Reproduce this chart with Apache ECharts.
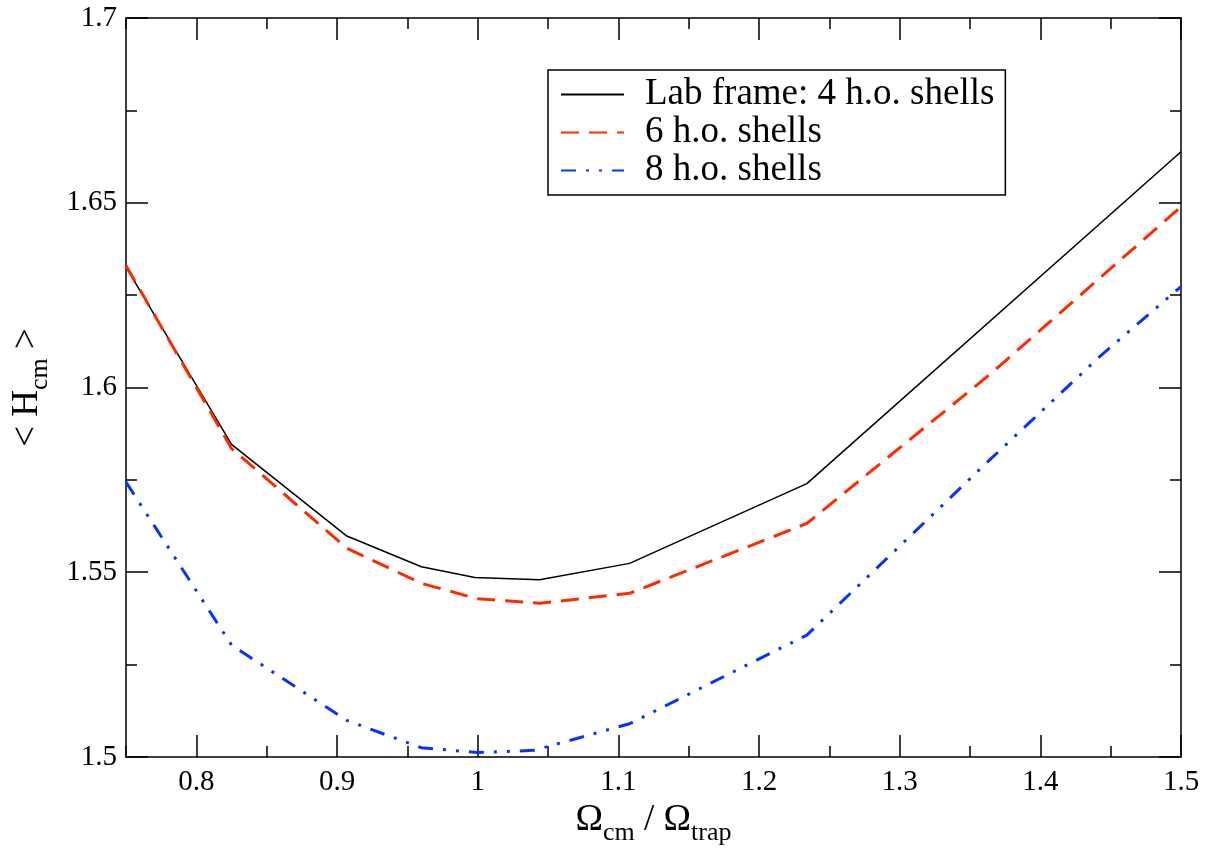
<!DOCTYPE html>
<html>
<head>
<meta charset="utf-8">
<script src="https://cdn.jsdelivr.net/npm/echarts@6/dist/echarts.min.js"></script>
<style>
html,body{margin:0;padding:0;background:#fff;}
#chart{width:1205px;height:851px;}
</style>
</head>
<body>
<div id="chart"></div>
<script>
// Data
const seriesNames = ['Lab frame: 4 h.o. shells', '6 h.o. shells', '8 h.o. shells'];
const x4 = [0.75, 0.825, 0.907, 0.96, 0.998, 1.044, 1.108, 1.234, 1.5];
const y4 = [1.6326, 1.5846, 1.5598, 1.5515, 1.5486, 1.548, 1.5524, 1.574, 1.6638];
const x6 = [0.75, 0.825, 0.907, 0.96, 1.0, 1.044, 1.108, 1.234, 1.364, 1.5];
const y6 = [1.633, 1.5835, 1.5565, 1.547, 1.5428, 1.5416, 1.5443, 1.5632, 1.6035, 1.6489];
const x8 = [0.75, 0.825, 0.907, 0.96, 1.0, 1.04, 1.108, 1.234, 1.364, 1.442, 1.5];
const y8 = [1.5744, 1.5303, 1.5099, 1.5025, 1.5012, 1.5018, 1.509, 1.533, 1.5804, 1.6083, 1.6273];
const xMajorTicks = [0.8, 0.9, 1.0, 1.1, 1.2, 1.3, 1.4, 1.5];
const xMinorTicks = [0.75, 0.85, 0.95, 1.05, 1.15, 1.25, 1.35, 1.45];
const xMin = 0.75, xMax = 1.5, yMin = 1.5, yMax = 1.7, yStep = 0.05;

const pairs = (xs, ys) => xs.map((x, i) => [x, ys[i]]);
const FONT = '"Liberation Serif", "Times New Roman", serif';
const lineCol = '#000';
const fmt = v => String(+(+v).toFixed(2));

function xAx(pos, ticks, len, showLine, showLabel, extra) {
  return Object.assign({
    type: 'value', position: pos, min: xMin, max: xMax,
    axisLine: {show: showLine, lineStyle: {color: lineCol, width: 1.5}},
    axisTick: {show: true, inside: true, length: len, customValues: ticks, lineStyle: {color: lineCol, width: 1.5}},
    axisLabel: {show: showLabel, customValues: ticks, formatter: fmt, fontFamily: FONT, fontSize: 29, color: '#000', margin: 11},
    splitLine: {show: false}
  }, extra || {});
}
function yAx(pos, showLabel, extra) {
  return Object.assign({
    type: 'value', position: pos, min: yMin, max: yMax, interval: yStep,
    axisLine: {show: true, lineStyle: {color: lineCol, width: 1.5}},
    axisTick: {show: true, inside: true, length: 22, lineStyle: {color: lineCol, width: 1.5}},
    minorTick: {show: true, splitNumber: 2, length: 11, lineStyle: {color: lineCol, width: 1.5}},
    axisLabel: {show: showLabel, formatter: fmt, fontFamily: FONT, fontSize: 29, color: '#000', margin: 9},
    splitLine: {show: false}, minorSplitLine: {show: false}
  }, extra || {});
}

const chart = echarts.init(document.getElementById('chart'), null, {renderer: 'canvas'});
chart.setOption({
  backgroundColor: '#fff',
  animation: false,
  grid: {left: 126, right: 24, top: 18, bottom: 94, containLabel: false, outerBoundsMode: 'none'},
  legend: {
    orient: 'vertical', left: 548, top: 70,
    data: seriesNames,
    itemWidth: 63, itemHeight: 20, itemGap: 1,
    padding: [6, 11, 6, 12],
    borderColor: '#000', borderWidth: 1.5,
    itemStyle: {opacity: 0},
    textStyle: {fontFamily: FONT, fontSize: 37, color: '#000', lineHeight: 35, padding: [0, 0, 0, 16]}
  },
  xAxis: [
    xAx('bottom', xMajorTicks, 22, true, true, {
      name: '{o|Ω}{s|cm}{o| / Ω}{s|trap}',
      nameLocation: 'middle', nameGap: 36,
      nameTextStyle: {
        fontFamily: FONT, color: '#000',
        rich: {
          o: {fontFamily: FONT, fontSize: 37, color: '#000'},
          s: {fontFamily: FONT, fontSize: 26, color: '#000', padding: [26, 0, 0, 0]}
        }
      }
    }),
    xAx('bottom', xMinorTicks, 11, false, false),
    xAx('top', xMajorTicks, 22, true, false),
    xAx('top', xMinorTicks, 11, false, false)
  ],
  yAxis: [
    yAx('left', true, {
      name: '{o|< H}{s|cm}{o| >}',
      nameLocation: 'middle', nameGap: 73, nameRotate: 90,
      nameTextStyle: {
        fontFamily: FONT, color: '#000',
        rich: {
          o: {fontFamily: FONT, fontSize: 37, color: '#000'},
          s: {fontFamily: FONT, fontSize: 26, color: '#000', padding: [26, 0, 0, 0]}
        }
      }
    }),
    yAx('right', false)
  ],
  series: [
    {name: seriesNames[0], type: 'line', data: pairs(x4, y4), symbol: 'none', smooth: false,
     lineStyle: {color: '#000', width: 1.5}, itemStyle: {color: '#000'}},
    {name: seriesNames[1], type: 'line', data: pairs(x6, y6), symbol: 'none', smooth: false,
     lineStyle: {color: '#ff2a00', width: 3, type: [18, 10], cap: 'butt'}, itemStyle: {color: '#ff2a00'}},
    {name: seriesNames[2], type: 'line', data: pairs(x8, y8), symbol: 'none', smooth: false,
     lineStyle: {color: '#0a32ff', width: 3, type: [15, 10, 3, 10, 3, 10], cap: 'butt'}, itemStyle: {color: '#0a32ff'}}
  ]
});
</script>
</body>
</html>
